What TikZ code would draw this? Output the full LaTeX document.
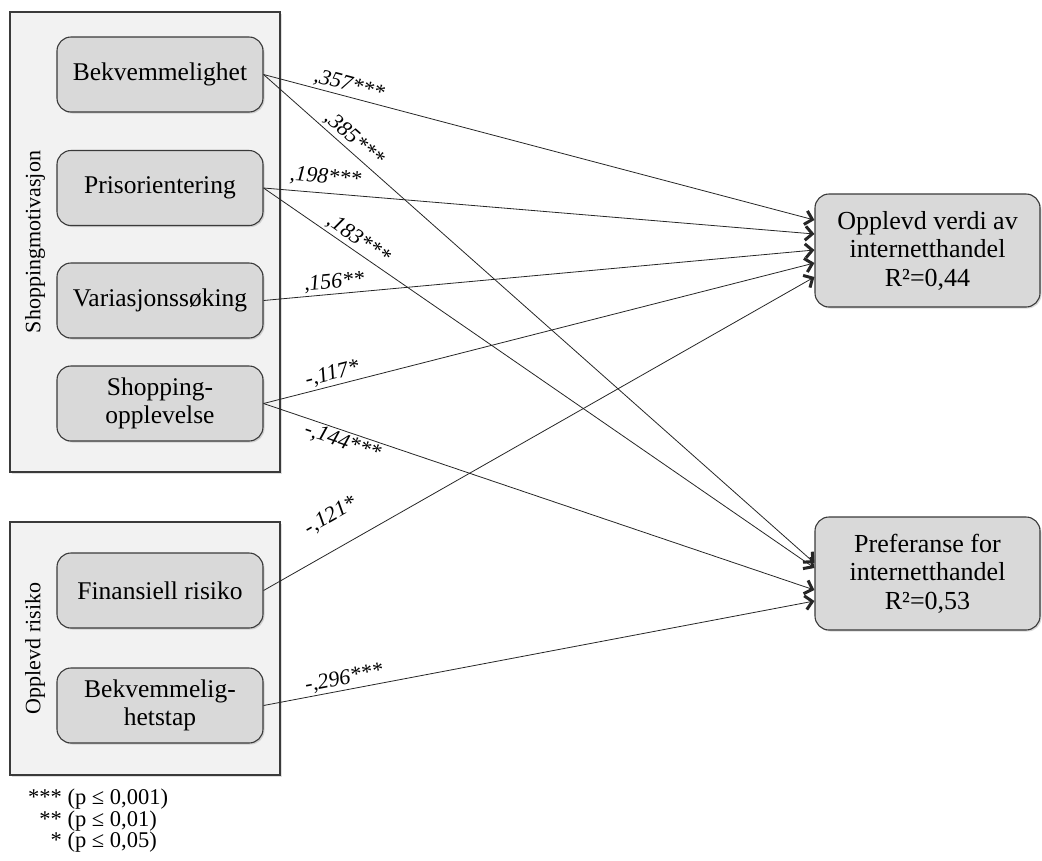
\documentclass[tikz,border=0pt]{standalone}
\usepackage{fontspec}
\setmainfont{Liberation Serif}
\usetikzlibrary{arrows.meta,shadows}
\definecolor{boxgray}{HTML}{F2F2F2}
\definecolor{nodegray}{HTML}{D9D9D9}
\definecolor{edgegray}{HTML}{3A3A3A}
\begin{document}
\begin{tikzpicture}[x=1pt, y=-1pt]
        \tikzset{
            group/.style={rectangle, draw=edgegray, fill=boxgray, line width=1.1pt, minimum width=270pt,
                drop shadow={shadow xshift=1.5pt, shadow yshift=-1.5pt, opacity=.25}},
            grouplabel/.style={rotate=90, font=\fontsize{22}{22}\selectfont},
            factor/.style={rectangle, rounded corners=14pt, draw=edgegray, fill=nodegray, line width=1.1pt,
                minimum width=206pt, minimum height=75pt, align=center, font=\fontsize{25.5}{28}\selectfont,
                drop shadow={shadow xshift=1.5pt, shadow yshift=-1.5pt, opacity=.3}},
            outcome/.style={factor, minimum width=225pt, minimum height=113pt, font=\fontsize{26}{28.5}\selectfont},
            effect/.style={draw=black!85, line width=.8pt, -{Straight Barb[length=7pt, width=14pt, line width=3pt]}},
            coef/.style={sloped, above, inner sep=2pt, font=\fontsize{22}{22}\selectfont\itshape}
        }
        \useasboundingbox (0,0) rectangle (1042,860);
        \node[group, minimum height=460pt] (motiv) at (145,242) {};
        \node[group, minimum height=253pt] (risiko) at (145,648.5) {};
        \node[grouplabel] (motivlabel) at (35,242) {Shoppingmotivasjon};
        \node[grouplabel] (risikolabel) at (35,648.5) {Opplevd risiko};
        \node[factor] (bek) at (160,74.5) {Bekvemmelighet};
        \node[factor] (pris) at (160,188) {Prisorientering};
        \node[factor] (vari) at (160,300.5) {Variasjonssøking};
        \node[factor] (shop) at (160,403.5) {Shopping-\\opplevelse};
        \node[factor] (fin) at (160,590.5) {Finansiell risiko};
        \node[factor] (tap) at (160,705.5) {Bekvemmelig-\\hetstap};
        \node[outcome] (verdi) at (927.5,250.5) {Opplevd verdi av\\internetthandel\\R²=0,44};
        \node[outcome] (pref) at (927.5,573.5) {Preferanse for\\internetthandel\\R²=0,53};
        \draw[effect] (bek.east) -- node[coef, pos=.15] {,357***} ([yshift=30.5pt]verdi.west);
        \draw[effect] (bek.east) -- node[coef, pos=.15] {,385***} ([yshift=10.5pt]pref.west);
        \draw[effect] (pris.east) -- node[coef, pos=.11, above=4pt] {,198***} ([yshift=16.5pt]verdi.west);
        \draw[effect] (pris.east) -- node[coef, pos=.16] {,183***} ([yshift=5.5pt]pref.west);
        \draw[effect] (vari.east) -- node[coef, pos=.13] {,156**} ([yshift=.5pt]verdi.west);
        \draw[effect] (shop.east) -- node[coef, pos=.13] {-,117*} ([yshift=-12.5pt]verdi.west);
        \draw[effect] (shop.east) -- node[coef, pos=.15, below] {-,144***} ([yshift=-16.5pt]pref.west);
        \draw[effect] (fin.east) -- node[coef, pos=.15, above=20pt] {-,121*} ([yshift=-26.5pt]verdi.west);
        \draw[effect] (tap.east) -- node[coef, pos=.15] {-,296***} ([yshift=-27.5pt]pref.west);
        \node[anchor=north west, inner sep=0pt, font=\fontsize{22.5}{19.5}\selectfont] (legend) at (28,789)
            {\begin{tabular}{@{}r@{ }l@{}}***&(p ≤ 0,001)\\{}**&(p ≤ 0,01)\\{}*&(p ≤ 0,05)\end{tabular}};
    \end{tikzpicture}
\end{document}
